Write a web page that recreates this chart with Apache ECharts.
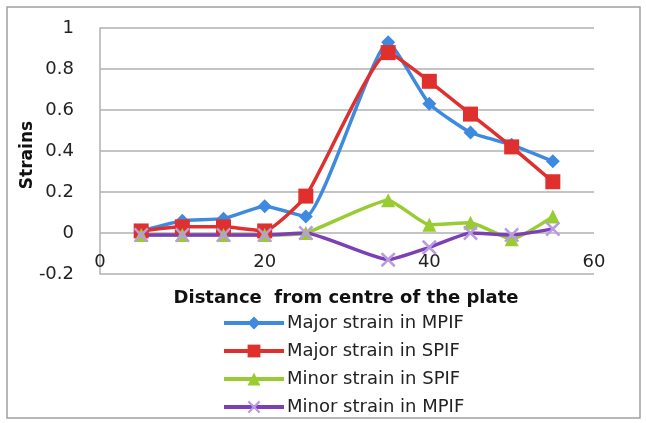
<!DOCTYPE html>
<html><head><meta charset="utf-8">
<script src="https://cdn.jsdelivr.net/npm/echarts@6/dist/echarts.min.js"></script>
<style>html,body{margin:0;padding:0;background:#fff}#c{width:646px;height:423px}</style>
</head><body><div id="c"></div>
<script>
const distances = [5, 10, 15, 20, 25, 35, 40, 45, 50, 55];
const majorMPIF = [0.01, 0.06, 0.07, 0.13, 0.08, 0.93, 0.63, 0.49, 0.43, 0.35];
const majorSPIF = [0.01, 0.03, 0.03, 0.01, 0.18, 0.88, 0.74, 0.58, 0.42, 0.25];
const minorSPIF = [-0.01, -0.01, -0.01, -0.01, 0.0, 0.16, 0.04, 0.05, -0.03, 0.08];
const minorMPIF = [-0.01, -0.01, -0.01, -0.01, 0.0, -0.13, -0.07, 0.0, -0.01, 0.02];
const seriesNames = ['Major strain in MPIF', 'Major strain in SPIF', 'Minor strain in SPIF', 'Minor strain in MPIF'];
const yTicks = [-0.2, 0, 0.2, 0.4, 0.6, 0.8, 1];
const xTicks = [0, 20, 40, 60];

const font = "'DejaVu Sans', 'Liberation Sans', sans-serif";
const pairs = v => distances.map((d, i) => [d, v[i]]);
const xPath = 'path://M0,1.2L1.2,0L5,3.8L8.8,0L10,1.2L6.2,5L10,8.8L8.8,10L5,6.2L1.2,10L0,8.8L3.8,5Z';

const chart = echarts.init(document.getElementById('c'), null, {renderer: 'canvas'});
chart.setOption({
  animation: false,
  backgroundColor: '#fff',
  grid: {left: 100, right: 52, top: 28, bottom: 149},
  xAxis: {
    type: 'value', min: xTicks[0], max: xTicks[xTicks.length - 1], interval: 20,
    axisLine: {show: false, onZero: false},
    axisTick: {show: false},
    splitLine: {show: false},
    axisLabel: {color: '#222', fontSize: 18, fontFamily: font, margin: -21, showMaxLabel: true, showMinLabel: true}
  },
  yAxis: {
    type: 'value', min: yTicks[0], max: yTicks[yTicks.length - 1], interval: 0.2,
    axisLine: {show: true, lineStyle: {color: '#b0b0b0', width: 1.5}},
    axisTick: {show: false},
    splitLine: {show: true, lineStyle: {color: '#b0b0b0', width: 1.5}},
    axisLabel: {color: '#222', fontSize: 18, fontFamily: font, margin: 26,
      formatter: v => String(Math.round(v * 10) / 10)}
  },
  legend: {
    orient: 'vertical', left: 222, top: 314, padding: 0, itemGap: 10, itemWidth: 60, itemHeight: 16,
    textStyle: {fontSize: 18, fontFamily: font, color: '#222', padding: [0, 0, 0, -2]},
    lineStyle: {width: 4},
    data: seriesNames
  },
  graphic: [
    {type: 'rect', shape: {x: 7, y: 7, width: 633, height: 411}, style: {fill: 'none', stroke: '#a0a0a0', lineWidth: 1.5}, silent: true},
    {type: 'text', x: 346, y: 298, style: {text: 'Distance  from centre of the plate', font: 'bold 18px ' + font, fill: '#111', align: 'center', verticalAlign: 'middle'}},
    {type: 'text', x: 28, y: 155, rotation: Math.PI / 2, style: {text: 'Strains', font: 'bold 17px ' + font, fill: '#111', align: 'center', verticalAlign: 'middle'}}
  ],
  series: [
    {name: seriesNames[0], type: 'line', smooth: 0.15, data: pairs(majorMPIF),
      symbol: 'diamond', symbolSize: 14, lineStyle: {width: 3.5, color: '#3d8ae0'}, itemStyle: {color: '#3d8ae0'}},
    {name: seriesNames[1], type: 'line', smooth: 0.15, data: pairs(majorSPIF),
      symbol: 'rect', symbolSize: 15, lineStyle: {width: 3.5, color: '#e0302e'}, itemStyle: {color: '#e0302e'}},
    {name: seriesNames[2], type: 'line', smooth: 0.15, data: pairs(minorSPIF),
      symbol: 'triangle', symbolSize: 14, lineStyle: {width: 3.5, color: '#99cc33'}, itemStyle: {color: '#99cc33'}},
    {name: seriesNames[3], type: 'line', smooth: 0.15, data: pairs(minorMPIF),
      symbol: xPath, symbolSize: 15, lineStyle: {width: 3.5, color: '#7d3fb8'}, itemStyle: {color: '#b99ce0'}}
  ]
});
</script></body></html>
